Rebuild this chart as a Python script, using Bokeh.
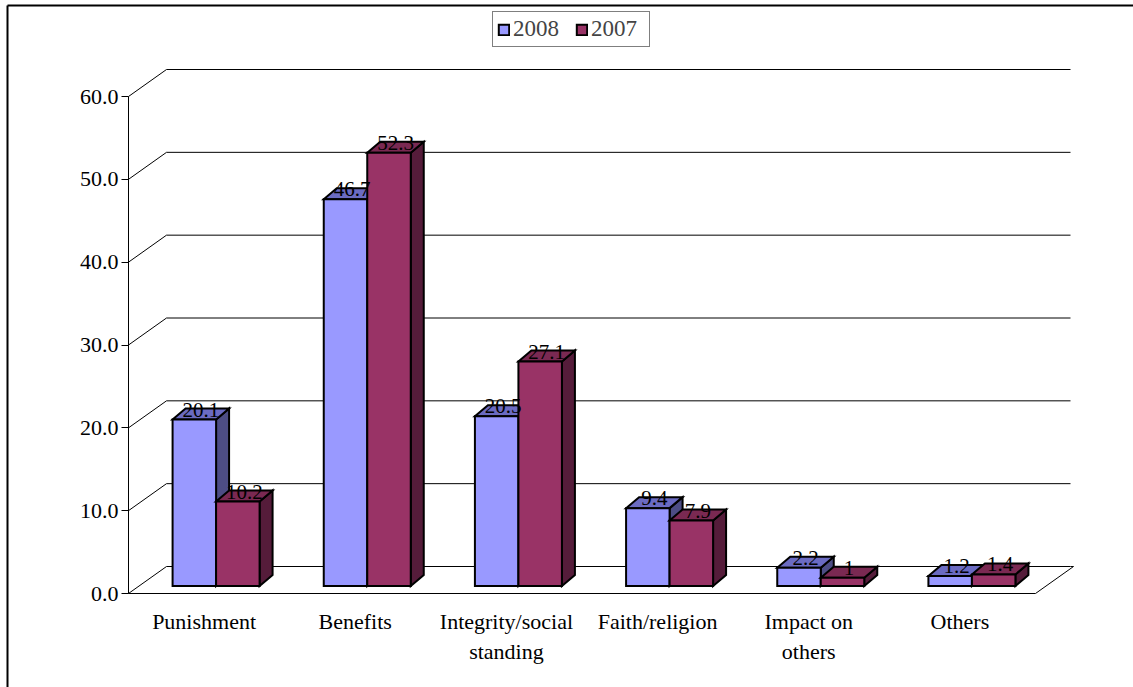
from bokeh.plotting import figure
from bokeh.models import (ColumnDataSource, Range1d, LinearAxis, FixedTicker,
                          PrintfTickFormatter, Legend, LegendItem)
from bokeh.core.properties import value
from bokeh.embed import file_html
from bokeh.resources import INLINE

# ---------------- data ----------------
categories = ["Punishment", "Benefits", "Integrity/social\nstanding",
              "Faith/religion", "Impact on\nothers", "Others"]
series_names = ["2008", "2007"]
values_2008 = [20.1, 46.7, 20.5, 9.4, 2.2, 1.2]
values_2007 = [10.2, 52.3, 27.1, 7.9, 1.0, 1.4]
labels_2008 = ["20.1", "46.7", "20.5", "9.4", "2.2", "1.2"]
labels_2007 = ["10.2", "52.3", "27.1", "7.9", "1", "1.4"]
y_ticks = [0, 10, 20, 30, 40, 50, 60]

# ---------------- geometry (pixels -> data units) ----------------
W, H = 1133, 687
X0, CAT = 128.0, 907.0 / 6        # pixel of axis, pixels per category
Y0, UNIT = 593.0, 497.0 / 60      # pixel of value 0, pixels per value unit
PX = 1.0 / CAT
PY = 1.0 / UNIT

FONT = "Liberation Serif"

p = figure(width=W, height=H, output_backend="svg", toolbar_location=None,
           x_axis_type=None, y_axis_type=None, min_border=0,
           x_range=Range1d((0 - X0) / CAT, (W - X0) / CAT),
           y_range=Range1d((Y0 - H) / UNIT, Y0 / UNIT))
p.outline_line_color = None
p.background_fill_color = "white"
p.border_fill_color = "white"

# outer chart border (left and top only visible)
bx = (7 - X0) * PX
by = (Y0 - 5) * PY
p.line([bx, bx], [(Y0 - H - 5) * PY, by], line_color="black", line_width=2)
p.line([bx, (W + 5 - X0) * PX], [by, by], line_color="black", line_width=2)

# back wall / side wall grid lines
WALL_DX, WALL_DY = 38 * PX, 27 * PY
x_end = (1070 - X0) * PX
gx, gy = [], []
for t in y_ticks:
    gx.append([0, WALL_DX, x_end])
    gy.append([t, t + WALL_DY, t + WALL_DY])
p.multi_line(gx, gy, line_color="black", line_width=1)

# floor front and right edges
n = len(categories)
p.line([0, n, n + WALL_DX, x_end], [0, 0, WALL_DY, WALL_DY], line_color="black", line_width=1)

# y axis
yax = LinearAxis(fixed_location=0, bounds=(0, 60),
                 ticker=FixedTicker(ticks=y_ticks, minor_ticks=[]),
                 formatter=PrintfTickFormatter(format="%.1f"))
yax.axis_line_color = "black"
yax.axis_line_width = 1
yax.major_tick_out = 7
yax.major_tick_in = 0
yax.minor_tick_out = 0
yax.minor_tick_in = 0
yax.major_label_standoff = 3
yax.major_label_text_font = FONT
yax.major_label_text_font_size = "22px"
yax.major_label_text_color = "black"
p.add_layout(yax, "left")

# bars
SHIFT_DX, SHIFT_DY = 12 * PX, 7.5 * PY      # bars' front plane behind floor edge
DEP_DX, DEP_DY = 13 * PX, 11 * PY           # bar depth
BW = 43.5 * PX

fronts = {"2008": "#9999FF", "2007": "#993366"}
tops = {"2008": "#6B6BC2", "2007": "#7A2952"}
sides = {"2008": "#4D4D85", "2007": "#551C3A"}

front_renderers = {}
label_x, label_y, label_t = [], [], []
for k, (name, vals, labs) in enumerate(zip(series_names, [values_2008, values_2007],
                                            [labels_2008, labels_2007])):
    left, right, bottom, top = [], [], [], []
    txs, tys, sxs, sys_ = [], [], [], []
    for i, v in enumerate(vals):
        xl = i + 0.5 - BW + k * BW + SHIFT_DX
        xr = xl + BW
        yb = SHIFT_DY
        yt = v + SHIFT_DY
        left.append(xl); right.append(xr); bottom.append(yb); top.append(yt)
        txs.append([xl, xr, xr + DEP_DX, xl + DEP_DX])
        tys.append([yt, yt, yt + DEP_DY, yt + DEP_DY])
        sxs.append([xr, xr + DEP_DX, xr + DEP_DX, xr])
        sys_.append([yb, yb + DEP_DY, yt + DEP_DY, yt])
        label_x.append((xl + xr) / 2 + DEP_DX / 2)
        label_y.append(yt)
        label_t.append(labs[i])
    p.patches(sxs, sys_, fill_color=sides[name], line_color="black", line_width=2,
              line_join="miter")
    p.patches(txs, tys, fill_color=tops[name], line_color="black", line_width=2,
              line_join="miter")
    src = ColumnDataSource(dict(left=left, right=right, bottom=bottom, top=top))
    front_renderers[name] = p.quad(left="left", right="right", bottom="bottom", top="top",
                                   source=src, fill_color=fronts[name],
                                   line_color="black", line_width=2, line_join="miter")

# data labels
p.text(x=label_x, y=label_y, text=label_t, text_font=value(FONT),
       text_font_size="21px", text_align="center", text_baseline="bottom",
       y_offset=-3, text_color="black")

# category labels
p.text(x=[i + 0.5 for i in range(n)], y=[0] * n, text=categories,
       text_font=value(FONT), text_font_size="22px", text_align="center",
       text_baseline="top", y_offset=15, text_line_height=1.2, text_color="black")

# legend
legend = Legend(items=[LegendItem(label=s, renderers=[front_renderers[s]]) for s in series_names],
                orientation="horizontal", location=(492, H - 47))
legend.border_line_color = "black"
legend.border_line_width = 1
legend.background_fill_color = "white"
legend.background_fill_alpha = 1
legend.label_text_font = FONT
legend.label_text_font_size = "23px"
legend.glyph_width = 13
legend.glyph_height = 13
legend.label_standoff = 3
legend.label_width = 54
legend.spacing = 8
legend.padding = 4
legend.margin = 0
legend.label_height = 24
p.add_layout(legend, "center")

open("out.html", "w").write(file_html(p, INLINE))
